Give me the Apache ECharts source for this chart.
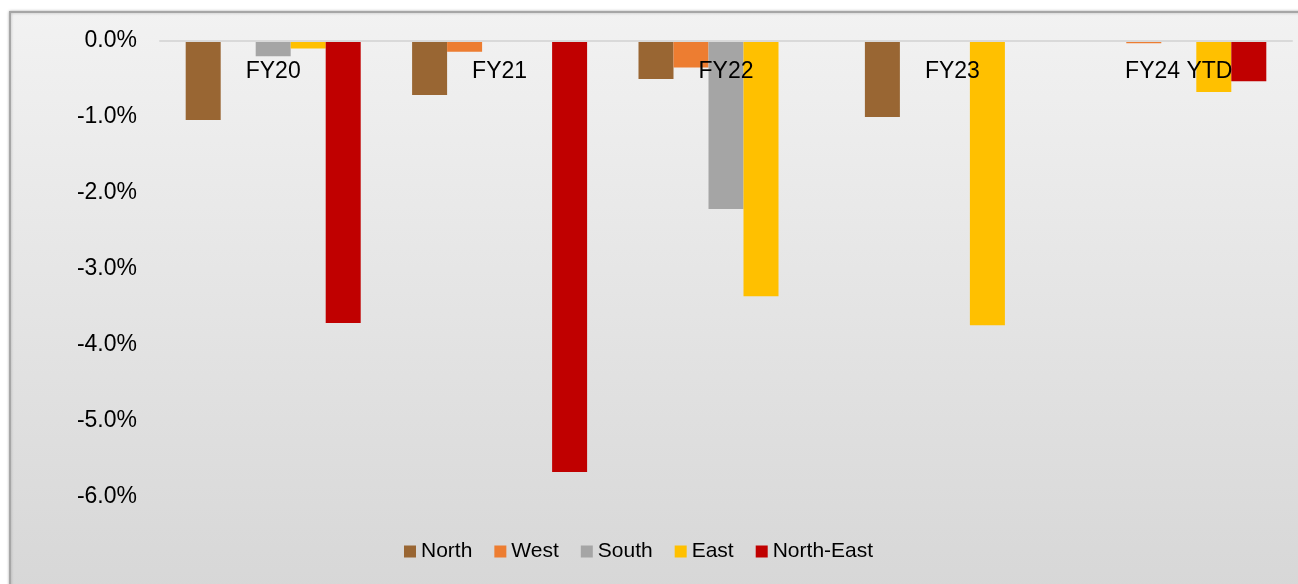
<!DOCTYPE html>
<html>
<head>
<meta charset="utf-8">
<script src="https://cdn.jsdelivr.net/npm/echarts@6/dist/echarts.min.js"></script>
<style>
html,body{margin:0;padding:0;background:#fff;}
#c{width:1298px;height:584px;}
</style>
</head>
<body>
<div id="c"></div>
<script>
const categories = ['FY20', 'FY21', 'FY22', 'FY23', 'FY24 YTD'];
const north = [-1.04, -0.71, -0.50, -1.00, 0];
const west = [0, -0.14, -0.35, 0, -0.03];
const south = [-0.20, 0, -2.21, 0, 0];
const east = [-0.10, 0, -3.36, -3.74, -0.67];
const northEast = [-3.71, -5.67, 0, 0, -0.53];
const yTicks = { min: -6, max: 0, step: 1 };

const seriesDefs = [
  { name: 'North', data: north, color: '#996633' },
  { name: 'West', data: west, color: '#ED7D31' },
  { name: 'South', data: south, color: '#A5A5A5' },
  { name: 'East', data: east, color: '#FFC000' },
  { name: 'North-East', data: northEast, color: '#C00000' }
];

const chart = echarts.init(document.getElementById('c'), null, { renderer: 'canvas' });
const font = 'Liberation Sans, Arial, sans-serif';
chart.setOption({
  animation: false,
  textStyle: { fontFamily: font },
  graphic: [{
    type: 'rect',
    z: -10,
    silent: true,
    shape: { x: 10, y: 12, width: 1300, height: 600 },
    style: {
      fill: new echarts.graphic.LinearGradient(0, 0, 0, 1, [
        { offset: 0, color: '#F2F2F2' },
        { offset: 1, color: '#D6D6D6' }
      ]),
      stroke: '#A6A6A6',
      lineWidth: 2,
      shadowBlur: 3,
      shadowColor: 'rgba(0,0,0,0.25)'
    }
  }],
  grid: { left: 160, right: 6, top: 41, bottom: 87, containLabel: false },
  legend: {
    data: seriesDefs.map(s => s.name),
    left: 404,
    top: 541,
    padding: 0,
    icon: 'rect',
    itemWidth: 12,
    itemHeight: 12,
    itemGap: 22,
    textStyle: { fontSize: 21, color: '#000', fontFamily: font }
  },
  xAxis: {
    type: 'category',
    data: categories,
    position: 'top',
    z: 10,
    axisLine: { show: true, lineStyle: { color: '#D9D9D9', width: 2 } },
    axisTick: { show: false },
    axisLabel: { inside: true, margin: 19, fontSize: 23, color: '#000', fontFamily: font }
  },
  yAxis: {
    type: 'value',
    min: yTicks.min,
    max: yTicks.max,
    interval: yTicks.step,
    axisLine: { show: false },
    axisTick: { show: false },
    splitLine: { show: false },
    axisLabel: {
      margin: 23,
      fontSize: 23,
      color: '#000',
      fontFamily: font,
      padding: [5, 0, 0, 0],
      formatter: v => v.toFixed(1) + '%'
    }
  },
  series: seriesDefs.map(s => ({
    name: s.name,
    type: 'bar',
    data: s.data,
    barGap: '0%',
    barCategoryGap: '22.7%',
    itemStyle: { color: s.color }
  }))
});
</script>
</body>
</html>
